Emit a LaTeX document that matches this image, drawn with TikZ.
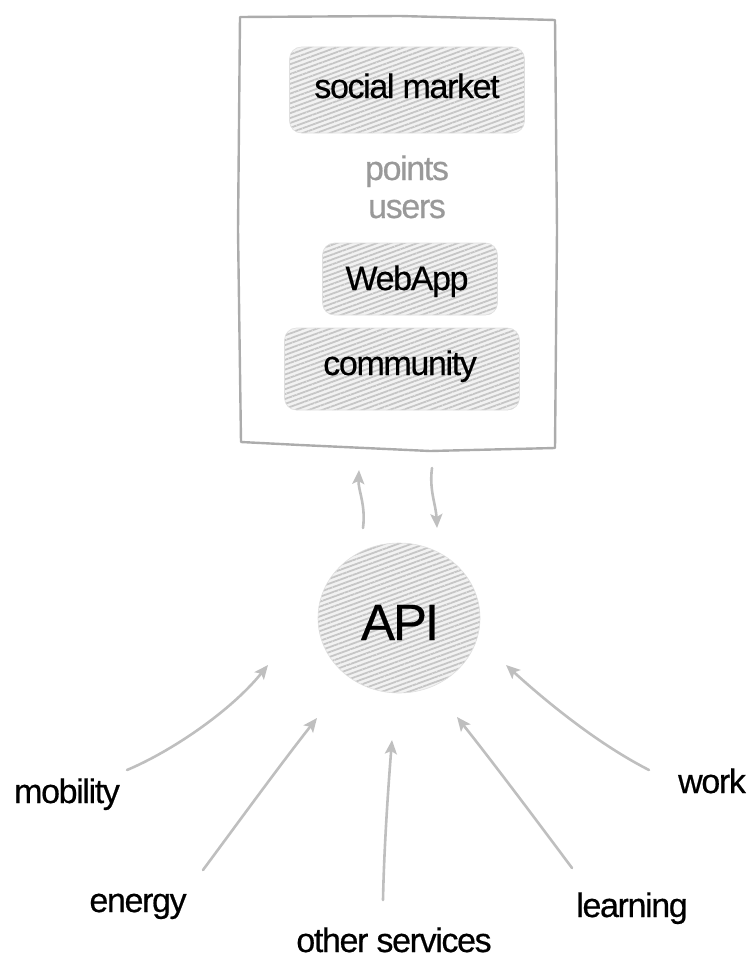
\documentclass[tikz,border=0pt]{standalone}
\usepackage{fontspec}
\setmainfont{Liberation Sans}
\newfontfamily\tightfont[LetterSpace=-4,FakeBold=0.5]{Liberation Sans}
\usetikzlibrary{arrows.meta,patterns.meta,shapes.geometric}
\begin{document}
\begin{tikzpicture}[x=1pt,y=-1pt,
  lbl/.style={anchor=base, inner sep=0pt, font=\tightfont\fontsize{34}{38}\selectfont, text=black},
  glbl/.style={lbl, text=gray!80},
  scrib/.style={draw=gray!25, line width=0.6pt,
    preaction={fill=gray!10},
    pattern={Lines[angle=20,distance=4.6pt,line width=1.8pt]}, pattern color=gray!45},
  scribbox/.style={scrib, rectangle, rounded corners=12pt, inner sep=0pt},
  frameline/.style={draw=gray!65, line width=2.4pt, line join=round, line cap=round},
  arr/.style={draw=gray!50, line width=2.6pt, line cap=round,
    -{Stealth[length=14pt,width=12pt,inset=3pt]}}
]
\useasboundingbox (0,0) rectangle (749,958);

% frame
\draw[frameline] (240,17) -- (400,16) -- (555,20) -- (557,230) -- (555,448)
  -- (430,451) -- (300,445) -- (241,442) -- (238,230) -- cycle;

% boxes
\node[scribbox, minimum width=235pt, minimum height=86pt] (smbox) at (407,90) {};
\node[lbl] (sm) at (407,98) {social market};
\node[glbl] (pts) at (407,180) {points};
\node[glbl] (usr) at (407,218) {users};
\node[scribbox, minimum width=175pt, minimum height=72pt] (wabox) at (410,279) {};
\node[lbl] (wa) at (407,290) {WebApp};
\node[scribbox, minimum width=235pt, minimum height=82pt] (cobox) at (402,369) {};
\node[lbl] (co) at (400,375) {community};

% API
\node[scrib, ellipse, minimum width=162pt, minimum height=150pt, inner sep=0pt] (api) at (399,618) {};
\node[lbl, font=\tightfont\fontsize{51}{54}\selectfont] (apit) at (400,640) {API};

% labels
\node[lbl] (mob) at (67,803) {mobility};
\node[lbl] (ene) at (138,912) {energy};
\node[lbl] (oth) at (394,952) {other services};
\node[lbl] (lea) at (632,917) {learning};
\node[lbl] (wor) at (712,793) {work};

% arrow ends
\coordinate (upT) at (363,528);
\coordinate (upH) at (359,470);
\coordinate (dnT) at (432,468);
\coordinate (dnH) at (437,528);
\coordinate (mobT) at (127,770);
\coordinate (mobH) at (268,665);
\coordinate (eneT) at (203,870);
\coordinate (eneH) at (317,718);
\coordinate (othT) at (383,900);
\coordinate (othH) at (392,740);
\coordinate (leaT) at (572,868);
\coordinate (leaH) at (457,717);
\coordinate (worT) at (649,770);
\coordinate (worH) at (506,665);

\draw[arr] (upT) .. controls (366,505) and (358,490) .. (upH);
\draw[arr] (dnT) .. controls (429,490) and (436,505) .. (dnH);
\draw[arr] (mobT) .. controls (170,752) and (230,712) .. (mobH);
\draw[arr] (eneT) .. controls (240,820) and (280,765) .. (eneH);
\draw[arr] (othT) .. controls (384,850) and (388,790) .. (othH);
\draw[arr] (leaT) .. controls (540,825) and (495,765) .. (leaH);
\draw[arr] (worT) .. controls (600,745) and (550,705) .. (worH);
\end{tikzpicture}
\end{document}
